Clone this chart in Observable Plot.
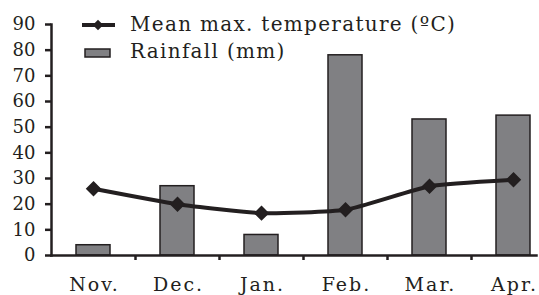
<!DOCTYPE html>
<html><head><meta charset="utf-8">
<script src="https://cdn.jsdelivr.net/npm/d3@7"></script>
<script src="https://cdn.jsdelivr.net/npm/@observablehq/plot@0.6"></script>
<style>
html,body{margin:0;padding:0;background:#fff;overflow:hidden}
#wrap{position:relative;width:539px;height:295px;overflow:hidden}
#legend{position:absolute;left:0;top:0}
g[aria-label="x-axis tick label"] text{letter-spacing:2px}
</style></head><body><div id="wrap"></div>
<script>
const months = ["Nov.", "Dec.", "Jan.", "Feb.", "Mar.", "Apr."];
const rainfall = [4, 27, 8, 78, 53, 54.5];
const temperature = [26, 20, 16.5, 17.8, 27, 29.5];
const yTicks = [0, 10, 20, 30, 40, 50, 60, 70, 80, 90];
const legendLabels = ["Mean max. temperature (ºC)", "Rainfall (mm)"];

const data = months.map((m, i) => ({month: m, rain: rainfall[i], temp: temperature[i]}));
const ink = "#231f20";
const barFill = "#808083";
const font = "'DejaVu Serif', serif";

const chart = Plot.plot({
  width: 539, height: 295,
  marginLeft: 51, marginRight: 3, marginTop: 24, marginBottom: 40,
  style: {fontFamily: font, fontSize: "18px", color: ink, background: "#fff", overflow: "visible"},
  x: {domain: months, range: [51, 555], paddingInner: 0.6, paddingOuter: 0.3, align: 0.5},
  y: {domain: [0, 90]},
  marks: [
    Plot.barY(data, {x: "month", y: "rain", fill: barFill, stroke: ink, strokeWidth: 1.5}),
    Plot.frame({anchor: "left", stroke: ink, strokeWidth: 2.5}),
    Plot.frame({anchor: "bottom", stroke: ink, strokeWidth: 2.5}),
    Plot.axisY({ticks: yTicks, tickSize: 6, tickPadding: 10, strokeWidth: 2.5, label: null}),
    Plot.axisX({ticks: months.slice(0, 5), tickSize: 5, text: null, dx: 42, strokeWidth: 2.5, label: null}),
    Plot.axisX({tickSize: 0, tickPadding: 22, label: null, fontSize: 19, dx: 1}),
    Plot.line(data, {x: "month", y: "temp", stroke: ink, strokeWidth: 4, curve: "cardinal", tension: 0.5}),
    Plot.dot(data, {x: "month", y: "temp", symbol: "diamond2", r: 6, fill: ink, stroke: ink})
  ]
});
const wrap = document.getElementById("wrap");
wrap.appendChild(chart);

// legend overlay
const leg = d3.select(wrap).append("svg").attr("id", "legend").attr("width", 539).attr("height", 70)
  .style("font-family", font).style("font-size", "20px").style("letter-spacing", "1.3px").style("fill", ink);
leg.append("line").attr("x1", 82).attr("x2", 115).attr("y1", 25).attr("y2", 25)
  .attr("stroke", ink).attr("stroke-width", 4);
leg.append("path").attr("d", d3.symbol(d3.symbolDiamond2, 70)()).attr("transform", "translate(98,25)")
  .attr("fill", ink);
leg.append("rect").attr("x", 85).attr("y", 49).attr("width", 25).attr("height", 8)
  .attr("fill", barFill).attr("stroke", ink).attr("stroke-width", 1.5);
leg.append("text").attr("x", 130).attr("y", 31).text(legendLabels[0]);
leg.append("text").attr("x", 130).attr("y", 58).text(legendLabels[1]);
</script></body></html>
